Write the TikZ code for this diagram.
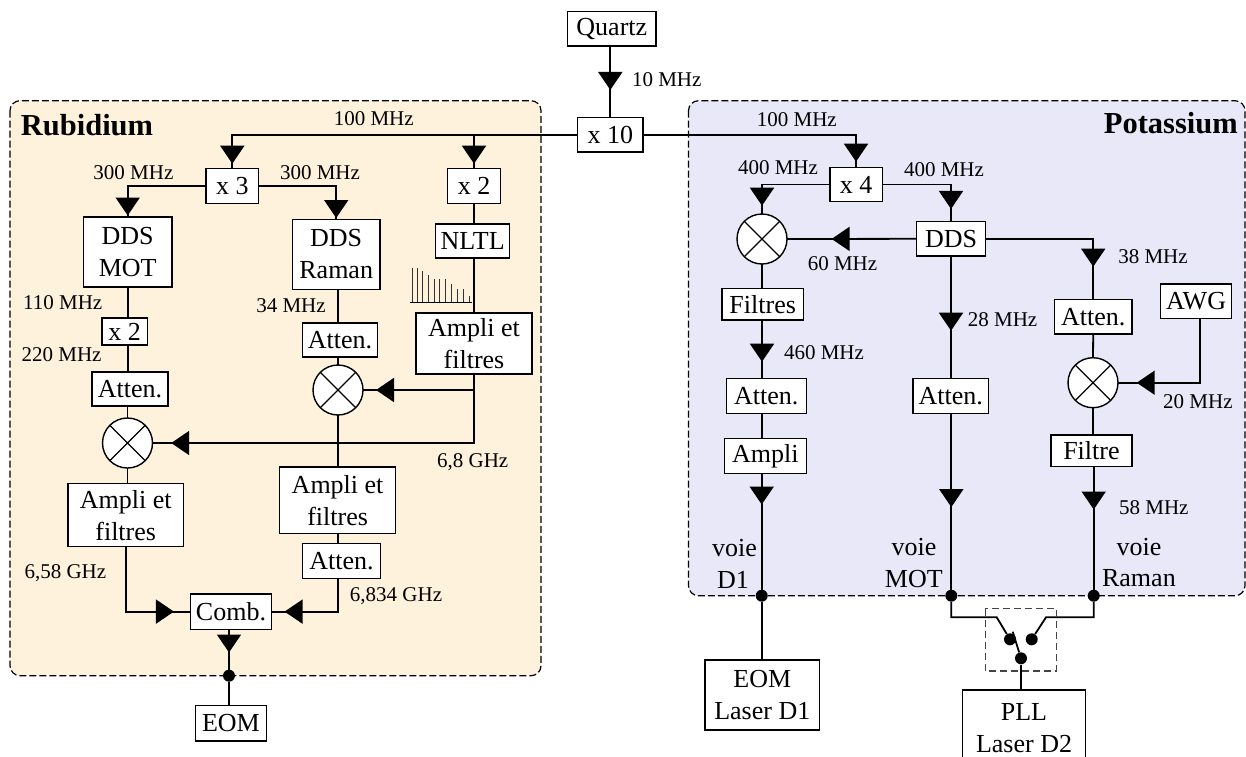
\documentclass[tikz,border=0pt]{standalone}
\usepackage{fontspec}
\setmainfont{Liberation Serif}
\usepackage{tikz}
\usetikzlibrary{arrows.meta,decorations.markings}
\definecolor{RubidiumFill}{HTML}{FFF2DC}
\definecolor{PotassiumFill}{HTML}{E9E8F8}
\definecolor{SwitchGray}{HTML}{444444}
\tikzset{
  bigtip/.tip={Triangle[width=24pt,length=18pt]},
  blockbox/.style 2 args={draw,fill=white,line width=1.4pt,inner sep=0pt,outer sep=0pt,
    align=center,font=\fontsize{26}{32}\selectfont,minimum width=#1 pt,minimum height=#2 pt},
  mixerbox/.style={circle,draw,fill=white,line width=1.4pt,inner sep=0pt,outer sep=0pt,minimum size=50pt,
    path picture={\draw[line width=1.2pt] (path picture bounding box.south west)--(path picture bounding box.north east)
      (path picture bounding box.north west)--(path picture bounding box.south east);}},
  freqlabel/.style={font=\fontsize{21}{25}\selectfont,inner sep=0pt},
  voielabel/.style={font=\fontsize{26}{32}\selectfont,inner sep=0pt},
  titlelabel/.style={font=\fontsize{30.5}{36}\selectfont\bfseries,inner sep=0pt},
  sig/.style={line width=1.8pt},
  midtip/.style={postaction={decorate},decoration={markings,mark=at position -#1 pt with {\arrow{bigtip}}}},
  dotnode/.style={circle,fill=black,inner sep=0pt,minimum size=12pt},
  panelbox/.style={draw,densely dashed,line width=1.2pt,rounded corners=10pt},
}
\begin{document}
\begin{tikzpicture}[x=1pt,y=-1pt]
  \clip (0,0) rectangle (1246,756);
  \draw[panelbox,fill=RubidiumFill,dash pattern=on 7pt off 3pt] (10,100.7) rectangle (541,675.7);
  \draw[panelbox,fill=PotassiumFill,dash pattern=on 7pt off 3pt] (688.5,100.7) rectangle (1245,595.7);

  \node[blockbox={88.3}{34.3}] (quartz) at (611.8,28.9) {Quartz};
  \node[blockbox={65.3}{34.7}] (xten) at (610.3,134.6) {x 10};

  \node[blockbox={52.6}{34.6}] (xthree) at (232.3,186) {x 3};
  \node[blockbox={52.5}{34.6}] (xtwoA) at (474,186) {x 2};
  \node[blockbox={74}{34}] (nltl) at (472.6,241) {NLTL};
  \node[blockbox={116}{61}] (ampfilA) at (474,343.5) {Ampli et\\filtres};
  \node[blockbox={88.2}{70}] (ddsMOT) at (127.7,252) {DDS\\MOT};
  \node[blockbox={87.5}{70}] (ddsRaman) at (336.2,254.5) {DDS\\Raman};
  \node[blockbox={45.5}{27}] (xtwoB) at (124.7,331.5) {x 2};
  \node[blockbox={76}{34}] (attA) at (130,389) {Atten.};
  \node[blockbox={75}{34}] (attB) at (340,340) {Atten.};
  \node[mixerbox] (mixB) at (338,390) {};
  \node[mixerbox] (mixA) at (127.5,443) {};
  \node[blockbox={115.7}{63}] (ampfilB) at (125.7,515.2) {Ampli et\\filtres};
  \node[blockbox={116}{66.7}] (ampfilC) at (337.6,500.3) {Ampli et\\filtres};
  \node[blockbox={78}{35}] (attC) at (341.4,561.2) {Atten.};
  \node[blockbox={80.7}{35.3}] (comb) at (231,611.6) {Comb.};
  \node[blockbox={71}{35.3}] (eomRb) at (230.9,723.3) {EOM};

  \node[blockbox={52.4}{34.4}] (xfour) at (856,184.5) {x 4};
  \node[mixerbox] (mixC) at (762,239) {};
  \node[blockbox={69}{34.3}] (dds) at (951,238.8) {DDS};
  \node[blockbox={81.6}{31.3}] (filtres) at (762.7,304.3) {Filtres};
  \node[blockbox={80}{35}] (attD) at (766.3,396.2) {Atten.};
  \node[blockbox={82}{34.6}] (ampli) at (765.4,456) {Ampli};
  \node[blockbox={75.8}{35}] (attE) at (950.8,396.2) {Atten.};
  \node[blockbox={77.5}{34.7}] (attF) at (1093.2,316.6) {Atten.};
  \node[blockbox={71.3}{34.7}] (awg) at (1196,301.3) {AWG};
  \node[mixerbox] (mixD) at (1093,382.7) {};
  \node[blockbox={81.2}{31.3}] (filtre) at (1091.4,450.6) {Filtre};
  \node[blockbox={114.7}{70}] (eomD) at (762.3,695) {EOM\\Laser D1};
  \node[blockbox={123.4}{76}] (pll) at (1024,728) {PLL\\Laser D2};

  \node[dotnode] (dotRb) at (229,675.7) {};
  \node[dotnode] (dotD) at (761.7,595.7) {};
  \node[dotnode] (dotM) at (951.3,595.7) {};
  \node[dotnode] (dotR) at (1093.7,595.7) {};
  \node[dotnode] (swL) at (1010,639.3) {};
  \node[dotnode] (swR) at (1031.7,639.3) {};
  \node[dotnode] (swC) at (1021,658.3) {};
  \coordinate (swA) at (996.7,617.3);
  \coordinate (swB) at (1046,617.3);
  \coordinate (swT) at (1012.7,631.7);

  \draw[sig,midtip=27.3] (quartz.south -| xten) -- (xten.north);
  \draw[sig,midtip=5] (xten.west) -| (xthree.north);
  \draw[sig,midtip=5] (xten.west -| xtwoA) -- (xtwoA.north);
  \draw[sig,midtip=1.5] (xthree.west) -| (ddsMOT.north);
  \draw[sig,midtip=1.5] (xthree.east) -| (ddsRaman.north);
  \draw[sig] (xtwoA.south) -- (nltl.north -| xtwoA);
  \draw[sig] (nltl.south -| xtwoA) -- (ampfilA.north);
  \draw[sig,midtip=18.7] (ampfilA.south) |- (mixA.east);
  \draw[sig,midtip=13] (mixB.east -| ampfilA) -- (mixB.east);
  \draw[sig] (ddsMOT.south) -- (xtwoB.north -| ddsMOT);
  \draw[sig] (xtwoB.south -| ddsMOT) -- (attA.north -| ddsMOT);
  \draw[sig] (attA.south -| mixA) -- (mixA.north);
  \draw[sig] (mixA.south) -- (ampfilB.north -| mixA);
  \draw[sig] (ddsRaman.south -| mixB) -- (attB.north -| mixB);
  \draw[sig] (attB.south -| mixB) -- (mixB.north);
  \draw[sig] (mixB.south) -- (ampfilC.north -| mixB);
  \draw[sig] (ampfilC.south -| mixB) -- (attC.north -| mixB);
  \draw[sig,midtip=16.7] (ampfilB.south) |- (comb.west);
  \draw[sig,midtip=13.2] (attC.south -| mixB) |- (comb.east);
  \draw[sig,midtip=17] (comb.south -| dotRb) -- (dotRb);
  \draw[sig] (dotRb) -- (eomRb.north -| dotRb);

  \draw[sig,midtip=5.6] (xten.east) -| (xfour.north);
  \draw[sig,midtip=8.3] (xfour.west) -| (mixC.north);
  \draw[sig,midtip=12.7] (xfour.east) -| (dds.north);
  \draw[sig,midtip=44.6] (dds.west) -- (mixC.east);
  \draw[sig,midtip=32.6] (dds.east) -| (attF.north);
  \draw[sig,midtip=48] (dds.south) -- (attE.north -| dds);
  \draw[sig] (attF.south) -- (mixD.north);
  \draw[sig,midtip=18.7] ([xshift=4.3pt]awg.south) |- (mixD.east);
  \draw[sig] (mixD.south) -- (filtre.north -| mixD);
  \draw[sig,midtip=80] (filtre.south -| dotR) -- (dotR);
  \draw[sig] (mixC.south) -- (filtres.north -| mixC);
  \draw[sig,midtip=17] (filtres.south -| mixC) -- (attD.north -| mixC);
  \draw[sig] (attD.south -| mixC) -- (ampli.north -| mixC);
  \draw[sig,midtip=85] (ampli.south -| dotD) -- (dotD);
  \draw[sig,midtip=82.4] (attE.south -| dotM) -- (dotM);
  \draw[sig] (dotD) -- (eomD.north -| dotD);
  \draw[sig] (dotM) |- (swA) -- (swL);
  \draw[sig] (dotR) |- (swB) -- (swR);
  \draw[sig] (swC) -- (swT);
  \draw[sig] (swC) -- (pll.north -| swC);
  \draw[SwitchGray,line width=1.5pt,dash pattern=on 7pt off 4pt] (985.3,608.7) rectangle (1056.3,671);

  \foreach \x/\y in {412/268.3,417/268.3,422.7/270.7,428/275,434/279,439.7/279,445.7/279,451.7/284,457.3/289.3,463/289.3,469/296}
    \draw[line width=1pt,black!80] (\x,302.3) -- (\x,\y);
  \draw[line width=1.3pt] (410,302.3) -- (471.7,302.3);

  \node[titlelabel] (titleRb) at (87,125) {Rubidium};
  \node[titlelabel] (titleK) at (1170.8,123.3) {Potassium};
  \node[freqlabel] (fTen) at (666.7,80) {10 MHz};
  \node[freqlabel] (fHundredA) at (373.7,119) {100 MHz};
  \node[freqlabel] (fThreeA) at (133.4,172.7) {300 MHz};
  \node[freqlabel] (fThreeB) at (320,172.7) {300 MHz};
  \node[freqlabel] (fOneTen) at (62.7,303) {110 MHz};
  \node[freqlabel] (fThirtyFour) at (291,306) {34 MHz};
  \node[freqlabel] (fTwoTwenty) at (61.6,355) {220 MHz};
  \node[freqlabel] (fSixEight) at (472.7,461.7) {6,8 GHz};
  \node[freqlabel] (fSixFiftyEight) at (65.4,573) {6,58 GHz};
  \node[freqlabel] (fSixEightThree) at (396,595.7) {6,834 GHz};
  \node[freqlabel] (fHundredB) at (796.8,119.3) {100 MHz};
  \node[freqlabel] (fFourA) at (778,167.7) {400 MHz};
  \node[freqlabel] (fFourB) at (944,169.3) {400 MHz};
  \node[freqlabel] (fSixty) at (842.5,264) {60 MHz};
  \node[freqlabel] (fThirtyEight) at (1153,256.7) {38 MHz};
  \node[freqlabel] (fTwentyEight) at (1002.6,319.3) {28 MHz};
  \node[freqlabel] (fFourSixty) at (824,352.7) {460 MHz};
  \node[freqlabel] (fTwenty) at (1197.9,401.7) {20 MHz};
  \node[freqlabel] (fFiftyEight) at (1153.8,507.7) {58 MHz};
  \node[voielabel] (voieA) at (734.5,548.3) {voie};
  \node[voielabel] (voieAb) at (733,580) {D1};
  \node[voielabel] (voieB) at (914,547) {voie};
  \node[voielabel] (voieBb) at (913.8,579.3) {MOT};
  \node[voielabel] (voieC) at (1139,546.7) {voie};
  \node[voielabel] (voieCb) at (1138.9,578.3) {Raman};
\end{tikzpicture}
\end{document}
